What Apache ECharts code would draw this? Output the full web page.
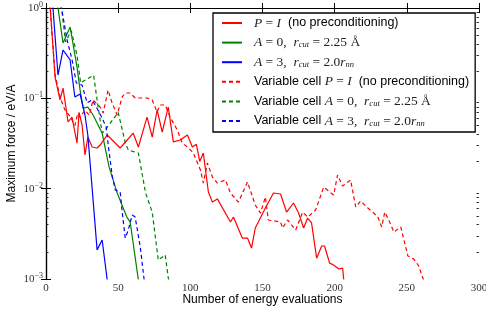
<!DOCTYPE html>
<html>
<head>
<meta charset="utf-8">
<script src="https://cdn.jsdelivr.net/npm/echarts@6/dist/echarts.min.js"></script>
<style>
  html, body { margin: 0; padding: 0; background: #fff; }
  #main { width: 486px; height: 310px; }
</style>
</head>
<body>
<div id="main"></div>
<script>
// series names (legend order)
var names = [
  'P = I (no preconditioning)',
  'A = 0, rcut = 2.25 A',
  'A = 3, rcut = 2.0rnn',
  'Variable cell P = I (no preconditioning)',
  'Variable cell A = 0, rcut = 2.25 A',
  'Variable cell A = 3, rcut = 2.0rnn'
];

// x = number of energy evaluations, y = maximum force (eV/A)
var redX = [2, 6.3, 9.7, 11.8, 15.3, 18, 21.5, 22.9, 25, 27, 29, 32, 35.4, 37.5, 42.4, 51.4, 60.4, 64, 70, 73.6, 77, 80.5, 84.7, 88.2, 93, 98, 101.4, 104.2, 106.5, 109, 112.5, 115.3, 118.75, 127.8, 129.9, 136, 139.6, 142.4, 145, 152, 157.6, 162.5, 166.7, 171.5, 175, 178.5, 181.25, 184, 187.5, 191, 193, 196.5, 199.3, 202.8, 205.5, 206.3];
var redY = [1.6, 0.172, 0.096, 0.130, 0.0547, 0.062, 0.032, 0.070, 0.0507, 0.0236, 0.0373, 0.0289, 0.0282, 0.0304, 0.0393, 0.0282, 0.0413, 0.0289, 0.062, 0.0373, 0.0743, 0.0424, 0.080, 0.0329, 0.0346, 0.0393, 0.0289, 0.031, 0.020, 0.0248, 0.0092, 0.0071, 0.0077, 0.00428, 0.00485, 0.00284, 0.00284, 0.0022, 0.00367, 0.0061, 0.00895, 0.00873, 0.0055, 0.00694, 0.00537, 0.00367, 0.00473, 0.00417, 0.0017, 0.00232, 0.00232, 0.0015, 0.00143, 0.00129, 0.00132, 0.00098];

var greenX = [7, 11.8, 16.7, 21.5, 23.6, 25.7, 29, 32.6, 38.9, 41.7, 43.75, 47.2, 49.3, 56, 58.3, 64];
var greenY = [1.4, 0.41, 0.616, 0.222, 0.124, 0.078, 0.080, 0.0654, 0.0413, 0.0249, 0.0173, 0.0115, 0.00895, 0.00485, 0.00428, 0.00098];

var blueX = [4, 8.3, 11.8, 16.7, 20, 23.6, 27, 29, 35.4, 38.9, 42.4, 43];
var blueY = [1.5, 0.181, 0.343, 0.266, 0.1035, 0.1117, 0.0654, 0.039, 0.0021, 0.0027, 0.00098, 0.0009];

var vcRedX = [2, 6.3, 10, 13, 17, 20, 22, 23.6, 27, 30, 32.6, 37.5, 39.6, 43, 45.8, 49.3, 52.8, 54.9, 58.3, 61.8, 70, 73.6, 77, 79, 82.6, 86, 91, 94.4, 98, 102, 107, 109, 111.8, 115.3, 118.75, 124.3, 127.8, 133.3, 139.6, 145, 148.6, 152, 154, 162.5, 163.9, 167.4, 173, 177.8, 181.25, 186.8, 192.4, 199.3, 202, 205.5, 211, 214.6, 218, 223, 226.4, 229.9, 232.6, 234.7, 237.5, 241, 245.8, 250.7, 254.9, 258.3, 261, 262];
var vcRedY = [1.6, 0.18, 0.10, 0.075, 0.062, 0.05, 0.068, 0.062, 0.074, 0.065, 0.096, 0.080, 0.0687, 0.1236, 0.0888, 0.0654, 0.1035, 0.1146, 0.1146, 0.1008, 0.1008, 0.0958, 0.0706, 0.0844, 0.0844, 0.062, 0.0446, 0.032, 0.0289, 0.025, 0.0161, 0.01155, 0.0192, 0.01346, 0.01155, 0.01247, 0.00895, 0.00711, 0.01185, 0.00659, 0.00537, 0.00809, 0.0045, 0.00428, 0.00367, 0.0045, 0.00349, 0.0055, 0.00485, 0.0058, 0.0104, 0.0085, 0.01416, 0.0107, 0.01247, 0.00627, 0.0073, 0.0061, 0.0055, 0.00485, 0.00377, 0.0055, 0.0045, 0.00331, 0.00377, 0.0018, 0.00166, 0.00139, 0.00103, 0.00095];

var vcGreenX = [10, 13.5, 17.5, 21.5, 24, 27.4, 33, 35.4, 38.9, 41, 50, 55, 57, 64, 69, 73.6, 77.8, 82.6, 84.7, 85.5];
var vcGreenY = [1.3, 0.42, 0.56, 0.30, 0.148, 0.16, 0.18, 0.096, 0.0413, 0.0446, 0.07, 0.032, 0.0268, 0.0248, 0.00895, 0.0055, 0.00162, 0.00185, 0.00103, 0.00095];

var vcBlueX = [6, 11, 14.5, 18, 21, 25, 28.5, 32, 36, 38.9, 41.7, 43.5, 46, 48, 51.4, 52.8, 54.9, 57, 59.7, 61.8, 65.3, 68];
var vcBlueY = [1.5, 0.95, 0.45, 0.27, 0.148, 0.14, 0.089, 0.096, 0.0743, 0.0605, 0.048, 0.027, 0.0135, 0.00966, 0.00918, 0.0055, 0.00284, 0.00349, 0.0051, 0.00485, 0.00226, 0.00098];

// minor tick positions on the log axis (exponent space)
var minorTicks = [];
[-3, -2, -1].forEach(function (d) {
  for (var k = 2; k <= 9; k++) minorTicks.push(Math.log10(k) + d);
});

function pairs(xs, ys) {
  return xs.map(function (x, i) { return [x, ys[i]]; });
}

var legendText = {};
legendText[names[0]] = '{g| }{i|P}{r| = }{i|I}{t|  (no preconditioning)}';
legendText[names[1]] = '{g| }{i|A}{r| = 0,  }{i|r}{s|cut}{r| = 2.25 Å}';
legendText[names[2]] = '{g| }{i|A}{r| = 3,  }{i|r}{s|cut}{r| = 2.0}{i|r}{s|nn}';
legendText[names[3]] = '{g| }{t|Variable cell }{i|P}{r| = }{i|I}{t|  (no preconditioning)}';
legendText[names[4]] = '{g| }{t|Variable cell }{i|A}{r| = 0,  }{i|r}{s|cut}{r| = 2.25 Å}';
legendText[names[5]] = '{g| }{t|Variable cell }{i|A}{r| = 3,  }{i|r}{s|cut}{r| = 2.0}{i|r}{s|nn}';

var serif = 'Liberation Serif';
var sans = 'Liberation Sans';
var frame = { show: true, lineStyle: { color: '#000', width: 1.2 } };

function mkSeries(name, xs, ys, color, dashed) {
  return {
    name: name,
    type: 'line',
    data: pairs(xs, ys),
    showSymbol: false,
    symbol: 'none',
    clip: true,
    lineStyle: { color: color, width: 1.2, type: dashed ? [4, 3] : 'solid' },
    itemStyle: { color: color }
  };
}

var chart = echarts.init(document.getElementById('main'));

var option = {
  animation: false,
  backgroundColor: '#fff',
  grid: { left: 46, right: 7, top: 8, bottom: 31, outerBoundsMode: 'none', containLabel: false },
  legend: {
    orient: 'vertical',
    left: 213,
    top: 13,
    padding: [3, 6, 4, 8],
    itemWidth: 20,
    itemHeight: 14,
    itemGap: 5.6,
    borderColor: '#000',
    borderWidth: 1.3,
    backgroundColor: '#fff',
    itemStyle: { opacity: 0, borderWidth: 0 },
    data: names,
    formatter: function (n) { return legendText[n]; },
    textStyle: {
      fontFamily: sans,
      fontSize: 12,
      color: '#000',
      rich: {
        g: { width: 7, lineHeight: 14 },
        t: { fontFamily: sans, fontSize: 12.5, color: '#000', lineHeight: 14 },
        i: { fontFamily: serif, fontStyle: 'italic', fontSize: 13.5, color: '#222', lineHeight: 14 },
        r: { fontFamily: serif, fontSize: 13.5, color: '#222', lineHeight: 14 },
        s: { fontFamily: serif, fontStyle: 'italic', fontSize: 8.5, color: '#222', lineHeight: 14, verticalAlign: 'bottom' }
      }
    }
  },
  xAxis: [
    {
      type: 'value', min: 0, max: 300, interval: 50, position: 'bottom',
      name: 'Number of energy evaluations', nameLocation: 'middle', nameGap: 15,
      nameMoveOverlap: false,
      nameTextStyle: { fontFamily: sans, fontSize: 12, color: '#000' },
      axisLine: frame,
      axisTick: { show: true, inside: true, length: 5, lineStyle: { color: '#000', width: 1 } },
      axisLabel: { margin: 4, fontFamily: serif, fontSize: 11, color: '#333' },
      splitLine: { show: false }
    },
    {
      type: 'value', min: 0, max: 300, interval: 50, position: 'top',
      axisLine: frame,
      axisTick: { show: true, inside: true, length: 5, lineStyle: { color: '#000', width: 1 } },
      axisLabel: { show: false },
      splitLine: { show: false }
    }
  ],
  yAxis: [
    {
      type: 'log', logBase: 10, min: 0.001, max: 1, position: 'left',
      name: 'Maximum force / eV/A', nameLocation: 'middle', nameGap: 28,
      nameMoveOverlap: false,
      nameTextStyle: { fontFamily: sans, fontSize: 12, color: '#000' },
      axisLine: frame,
      axisTick: { show: true, inside: true, length: 5, lineStyle: { color: '#000', width: 1 } },
      axisLabel: {
        margin: 3,
        formatter: function (v) {
          var e = Math.round(Math.log10(v));
          return '{b|10}{e|' + (e < 0 ? '\u2212' + (-e) : e) + '}';
        },
        rich: {
          b: { fontFamily: serif, fontSize: 11, color: '#333', lineHeight: 14 },
          e: { fontFamily: serif, fontSize: 8, color: '#333', lineHeight: 14, verticalAlign: 'top' }
        }
      },
      splitLine: { show: false }
    },
    {
      type: 'log', logBase: 10, min: 0.001, max: 1, position: 'right',
      axisLine: frame,
      axisTick: { show: true, inside: true, length: 5, lineStyle: { color: '#000', width: 1 } },
      axisLabel: { show: false },
      splitLine: { show: false }
    },
    {
      type: 'value', min: -3, max: 0, position: 'left',
      axisLine: { show: false },
      axisTick: { show: true, inside: true, length: 2.5, customValues: minorTicks, lineStyle: { color: '#000', width: 0.8 } },
      axisLabel: { show: false },
      splitLine: { show: false }
    },
    {
      type: 'value', min: -3, max: 0, position: 'right',
      axisLine: { show: false },
      axisTick: { show: true, inside: true, length: 2.5, customValues: minorTicks, lineStyle: { color: '#000', width: 0.8 } },
      axisLabel: { show: false },
      splitLine: { show: false }
    }
  ],
  series: [
    mkSeries(names[0], redX, redY, '#ff0000', false),
    mkSeries(names[1], greenX, greenY, '#008000', false),
    mkSeries(names[2], blueX, blueY, '#0000ff', false),
    mkSeries(names[3], vcRedX, vcRedY, '#ff0000', true),
    mkSeries(names[4], vcGreenX, vcGreenY, '#008000', true),
    mkSeries(names[5], vcBlueX, vcBlueY, '#0000ff', true)
  ]
};

chart.setOption(option);
</script>
</body>
</html>
